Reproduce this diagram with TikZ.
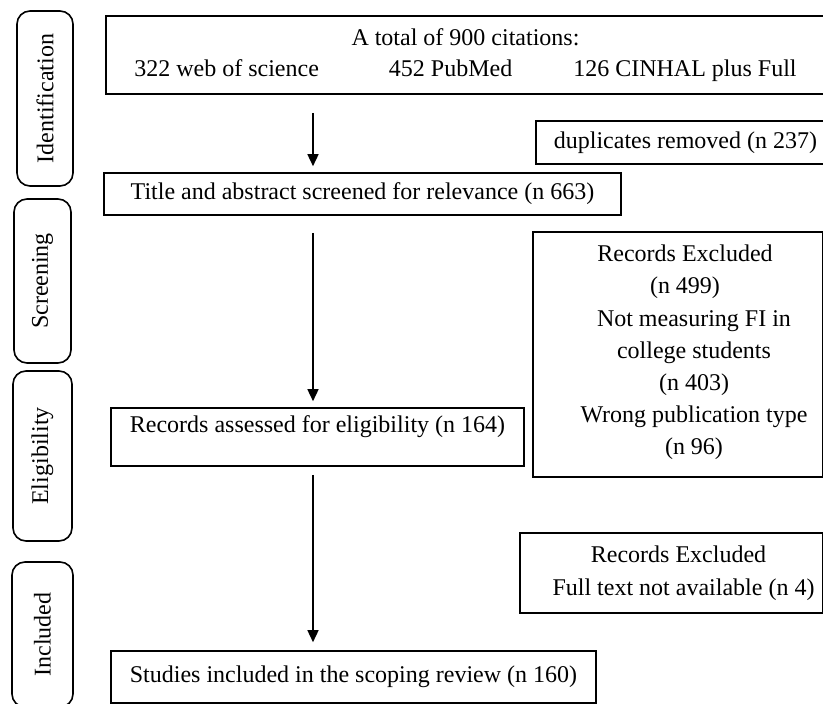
\documentclass[tikz,border=0pt]{standalone}
\usepackage{fontspec}
\setmainfont{Liberation Serif}
\usetikzlibrary{arrows.meta}
\begin{document}
\begin{tikzpicture}[x=1pt,y=-1pt,
  box/.style={draw=black, line width=1.6pt, rectangle, inner sep=0pt, align=center,
    font=\fontsize{24}{29}\selectfont},
  stage/.style={draw=black, line width=1.6pt, rectangle, rounded corners=13pt, inner sep=0pt,
    rotate=90, font=\fontsize{24}{29}\selectfont},
  arr/.style={line width=1.5pt, -{Triangle[width=11pt,length=12pt]}}]
\useasboundingbox (0,0) rectangle (823,704);
\clip (0,0) rectangle (823,704);
% stage labels
\node[stage, minimum width=175pt, minimum height=56pt] (ident) at (45,98.5) {Identification};
\node[stage, minimum width=164pt, minimum height=57pt] (screen) at (42.5,281) {Screening};
\node[stage, minimum width=170pt, minimum height=59pt] (elig) at (42.5,456) {Eligibility};
\node[stage, minimum width=145pt, minimum height=61pt] (incl) at (42.5,634.5) {Included};
% main flow boxes
\node[box, minimum width=719pt, minimum height=78pt] (top) at (465.5,55)
  {A total of 900 citations:\\[2pt]
   322 web of science\hspace{70pt}452 PubMed\hspace{61pt}126 CINHAL plus Full};
\node[box, minimum width=289pt, minimum height=43pt] (dup) at (680.5,142.5) {\hspace*{10pt}duplicates removed (n 237)};
\node[box, minimum width=517pt, minimum height=42pt] (title) at (362.5,194) {Title and abstract screened for relevance (n 663)};
\node[box, minimum width=290pt, minimum height=245pt, text depth=9pt, font=\fontsize{24}{32.2}\selectfont] (excl1) at (678,354.5)
  {\hspace*{14pt}Records Excluded\\\hspace*{14pt}(n 499)\\\hspace*{32pt}Not measuring FI in\\\hspace*{32pt}college students\\\hspace*{32pt}(n 403)\\\hspace*{32pt}Wrong publication type\\\hspace*{32pt}(n 96)};
\node[box, minimum width=413pt, minimum height=58pt, text depth=26pt] (assessed) at (317.5,437) {Records assessed for eligibility (n 164)};
\node[box, minimum width=303pt, minimum height=80pt, font=\fontsize{24}{33}\selectfont] (excl2) at (671.5,573)
  {\hspace*{14pt}Records Excluded\\\hspace*{24pt}Full text not available (n 4)};
\node[box, minimum width=485pt, minimum height=52pt] (studies) at (353.5,677) {Studies included in the scoping review (n 160)};
% arrows
\coordinate (ax) at (313,0);
\draw[arr, shorten <=18pt, shorten >=6pt] (top.south -| ax) -- (title.north -| ax);
\draw[arr, shorten <=17pt, shorten >=6pt] (title.south -| ax) -- (assessed.north -| ax);
\draw[arr, shorten <=8pt, shorten >=8pt] (assessed.south -| ax) -- (studies.north -| ax);
\end{tikzpicture}
\end{document}
